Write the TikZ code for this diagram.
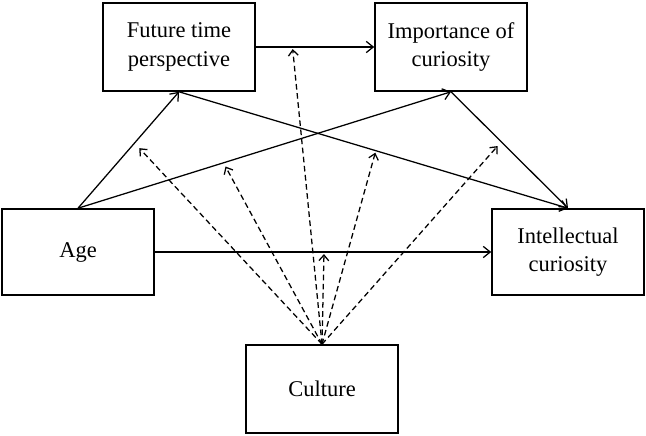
\documentclass[tikz,border=0pt]{standalone}
\usepackage{fontspec}
\setmainfont{Liberation Serif}
\usetikzlibrary{arrows.meta}

\begin{document}
\begin{tikzpicture}[
	varbox/.style={draw, line width=1.1pt, minimum width=3.8cm, minimum height=2.2cm, align=center, font=\fontsize{16}{20}\selectfont},
	path/.style={-{Straight Barb[length=5pt,width=8pt]}, line width=0.9pt},
	mod/.style={-{Straight Barb[length=4pt,width=7pt]}, dash pattern=on 4pt off 2.5pt, line width=0.9pt, shorten >=1.5pt}
]
	\useasboundingbox (0,0) rectangle (16.15,10.875);
	% variables
	\node[varbox] (ftp) at (4.475,9.7) {Future time\\perspective};
	\node[varbox] (ioc) at (11.275,9.7) {Importance of\\curiosity};
	\node[varbox, minimum height=2.15cm] (age) at (1.95,4.575) {Age};
	\node[varbox, minimum height=2.15cm] (ic) at (14.2,4.575) {Intellectual\\curiosity};
	\node[varbox] (cul) at (8.05,1.15) {Culture};
	% paths
	\draw[path] (age.north) -- (ftp.south) coordinate[pos=0.56] (m1);
	\draw[path] (age.north) -- (ioc.south) coordinate[pos=0.39] (m2);
	\draw[path] (ftp.east) -- (ioc.west) coordinate[pos=0.31] (m3);
	\draw[path] (ftp.south) -- (ic.north) coordinate[pos=0.506] (m4);
	\draw[path] (ioc.south) -- (ic.north) coordinate[pos=0.43] (m5);
	\draw[path] (age.east) -- (ic.west) coordinate[pos=0.503] (m6);
	% moderation by culture
	\draw[mod, shorten >=5pt] (cul.north) -- (m1);
	\draw[mod, shorten >=3pt] (cul.north) -- (m2);
	\draw[mod] (cul.north) -- (m3);
	\draw[mod] (cul.north) -- (m4);
	\draw[mod, shorten >=4pt] (cul.north) -- (m5);
	\draw[mod] (cul.north) -- (m6);
\end{tikzpicture}
\end{document}
